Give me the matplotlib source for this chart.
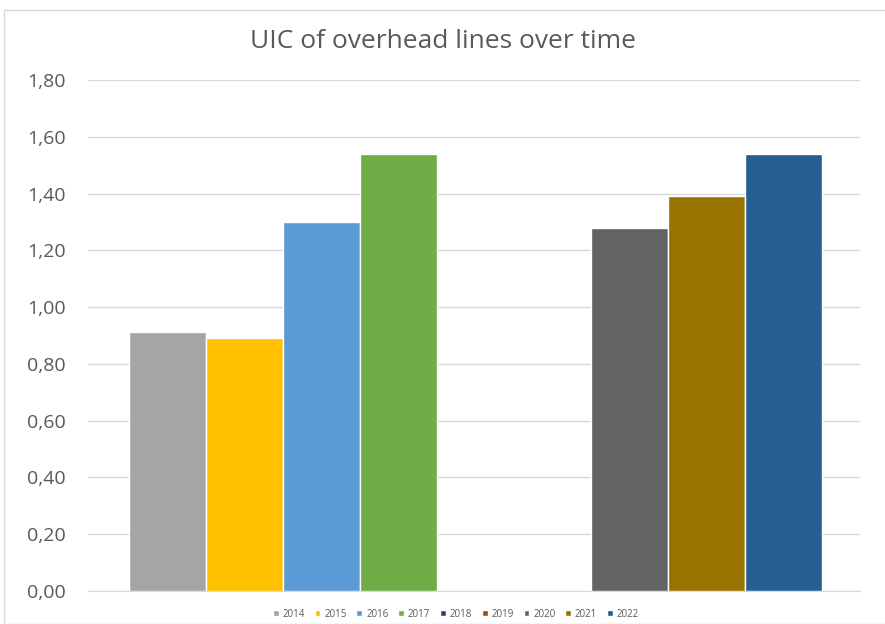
import matplotlib.pyplot as plt
from matplotlib.patches import Rectangle
from matplotlib.ticker import FuncFormatter

plt.rcParams['font.family'] = ['Open Sans', 'DejaVu Sans']

years = ['2014', '2015', '2016', '2017', '2018', '2019', '2020', '2021', '2022']
uic = [0.912, 0.891, 1.30, 1.54, 0.0, 0.0, 1.28, 1.39, 1.54]
colors = ['#a5a5a5', '#ffc000', '#5b9bd5', '#70ad47', '#264478',
          '#9e480e', '#636363', '#997300', '#255e91']

fig = plt.figure(figsize=(8.85, 6.24), dpi=100)
ax = fig.add_axes([0.0994, 0.0529, 0.8724, 0.8189])

for i, (y, v, c) in enumerate(zip(years, uic, colors)):
    ax.bar(i, v, width=1.0, color=c, edgecolor='white', linewidth=1, label=y, zorder=3)

ax.set_xlim(-1.03, 9.0)
ax.set_ylim(0, 1.8)
ax.set_yticks([i * 0.2 for i in range(10)])
ax.yaxis.set_major_formatter(FuncFormatter(lambda v, p: f"{v:.2f}".replace('.', ',')))
ax.set_xticks([])
ax.grid(axis='y', color='#d9d9d9', linewidth=1, zorder=0)
for s in ['top', 'right', 'left']:
    ax.spines[s].set_visible(False)
ax.spines['bottom'].set_color('#d9d9d9')
ax.tick_params(axis='y', length=0, labelsize=14, labelcolor='#595959', pad=16)

fig.text(0.5, 0.933, 'UIC of overhead lines over time', ha='center', va='center',
         fontsize=19, color='#595959')

fig.legend(loc='center', bbox_to_anchor=(0.515, 0.016), ncol=9, frameon=False,
           fontsize=7, handlelength=0.6, handleheight=0.6, handletextpad=0.4,
           columnspacing=1.0, labelcolor='#595959')

fig.patches.append(Rectangle((4 / 885, 0), 1.0, 1 - 10 / 624, transform=fig.transFigure,
                             fill=False, edgecolor='#d9d9d9', linewidth=1))

fig.savefig('out.png', dpi=100)
